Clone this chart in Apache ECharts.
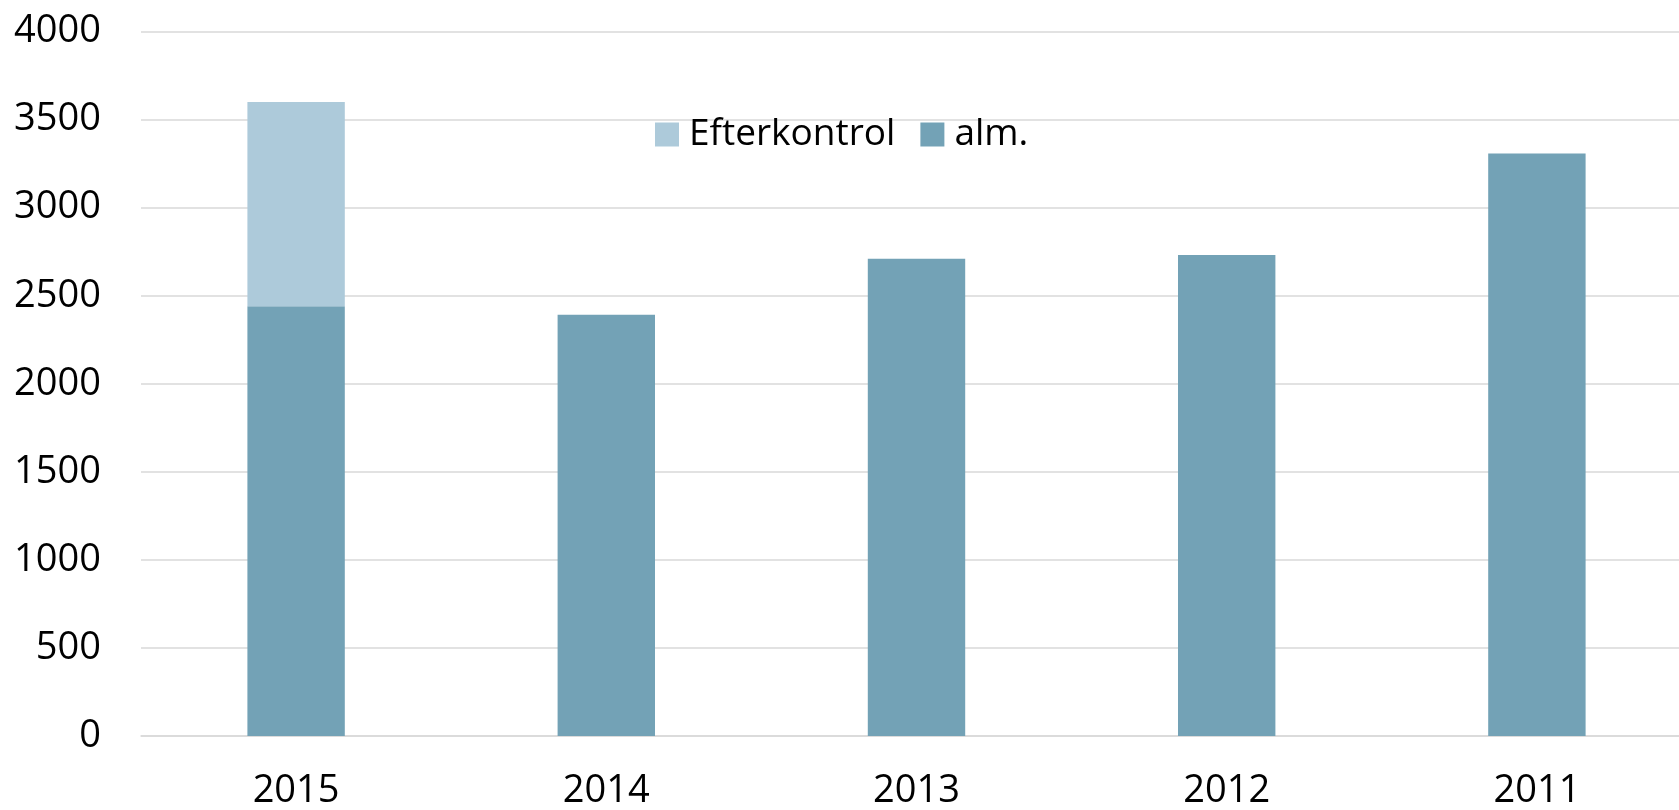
<!DOCTYPE html>
<html>
<head>
<meta charset="utf-8">
<script src="https://cdn.jsdelivr.net/npm/echarts@6/dist/echarts.min.js"></script>
<style>
  html, body { margin: 0; padding: 0; background: #fff; overflow: hidden; }
  /* plot area runs a little past the right edge of the window, as in the original */
  #chart { width: 1692px; height: 810px; }
</style>
</head>
<body>
<div id="chart"></div>
<script>
// år (kategorier)
var years = ['2015', '2014', '2013', '2012', '2011'];
// alm. kontrol
var almValues = [2440, 2392, 2710, 2731, 3307];
// efterkontrol (kun 2015)
var efterValues = [1160, null, null, null, null];
var yTicks = [0, 500, 1000, 1500, 2000, 2500, 3000, 3500, 4000];

var font = 'Open Sans';
var chart = echarts.init(document.getElementById('chart'));
chart.setOption({
  animation: false,
  textStyle: { fontFamily: font },
  grid: { left: 141, right: 0, top: 31.5, bottom: 74 },
  legend: {
    data: ['Efterkontrol', 'alm.'],
    left: 655,
    top: 116,
    padding: 0,
    itemWidth: 24,
    itemHeight: 24,
    itemGap: 25,
    icon: 'rect',
    textStyle: { fontSize: 37, color: '#000', fontFamily: font, padding: [0, 0, 0, 5] }
  },
  xAxis: {
    type: 'category',
    data: years,
    axisLine: { show: true, lineStyle: { color: '#d9d9d9', width: 1.5 } },
    axisTick: { show: false },
    axisLabel: { fontSize: 38, color: '#000', margin: 36, fontFamily: font }
  },
  yAxis: {
    type: 'value',
    min: yTicks[0],
    max: yTicks[yTicks.length - 1],
    interval: 500,
    axisLine: { show: false },
    axisTick: { show: false },
    splitLine: { lineStyle: { color: '#d9d9d9', width: 1.5 } },
    axisLabel: {
      fontSize: 38, color: '#000', margin: 40, fontFamily: font,
      formatter: function (v) { return String(v); }
    }
  },
  series: [
    {
      name: 'alm.',
      type: 'bar',
      stack: 'total',
      data: almValues,
      barWidth: '31.4%',
      itemStyle: { color: '#73a2b6' }
    },
    {
      name: 'Efterkontrol',
      type: 'bar',
      stack: 'total',
      data: efterValues,
      barWidth: '31.4%',
      itemStyle: { color: '#adcada' }
    }
  ]
});
</script>
</body>
</html>
